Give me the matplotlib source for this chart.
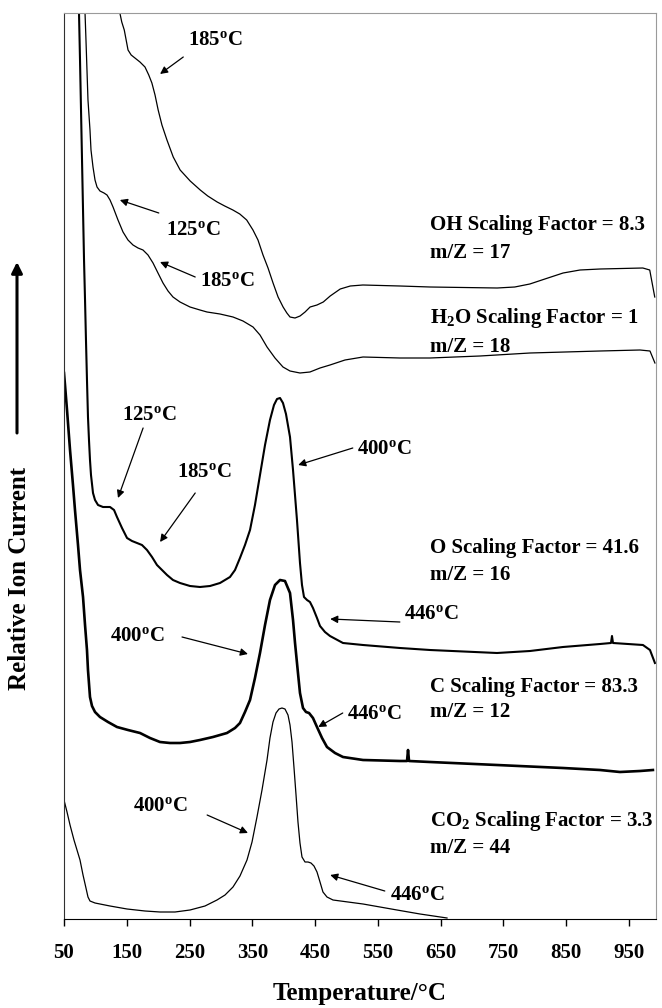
import matplotlib
matplotlib.use("Agg")
import matplotlib.pyplot as plt

# temperature (deg C) and relative ion current (offset, arbitrary units)
oh_temp = [139, 142, 146, 149, 152, 157, 163, 171, 179, 185, 190, 195, 200, 206, 214, 224,
           235, 251, 267, 279, 294, 306, 319, 330, 341, 351, 359, 367, 375, 383, 391, 399,
           405, 410, 418, 426, 434, 442, 453, 463, 474, 490, 506, 526, 585, 633, 740, 768,
           792, 816, 845, 872, 904, 972, 983, 991]
oh_sig = [906, 897, 889, 879, 869, 864, 861, 857, 852, 844, 836, 824, 809, 794, 779, 762,
          749, 738, 729, 723, 717, 713, 709, 705, 699, 689, 679, 664, 651, 636, 622, 612,
          606, 602, 601, 603, 607, 612, 614, 617, 623, 630, 633, 634, 633, 632, 631, 632,
          635, 640, 646, 649, 650, 651, 649, 622]

h2o_temp = [83.5, 85, 86.6, 88.2, 91.4, 93, 96.2, 99.4, 102.6, 107.3, 113.7, 118.5, 123.3,
            128.1, 136, 144, 151.9, 159.9, 167.9, 175.8, 183.8, 191.8, 199.7, 207.7, 215.7,
            223.6, 234.8, 250.7, 266.6, 277.8, 298.5, 319.2, 335.1, 351.1, 362.2, 373.4,
            386.1, 398.8, 410, 425.9, 441.8, 457.8, 473.7, 497.6, 526.3, 585.2, 633, 712.6,
            792.3, 903.8, 967.5, 983.4, 991.3]
h2o_sig = [906, 879, 849, 819, 789, 769, 752, 739, 732, 728, 726, 724, 719,
           712, 699, 687, 679, 674, 671, 669, 664, 656, 646, 636, 628,
           622, 617, 612, 609, 607, 605, 602, 598, 592, 584, 572,
           561, 552, 548, 546, 547, 551, 554, 559, 562, 561, 561, 563,
           566, 568, 569, 568, 556]

o_temp = [73.9, 75.5, 77.1, 78.7, 80.3, 81.9, 83.5, 85, 86.6, 88.2, 89.8, 91.4, 93, 96.2,
          99.4, 104.2, 112.1, 123.3, 129.7, 134.4, 142.4, 150.4, 158.3, 166.3, 174.2, 182.2,
          190.2, 198.1, 206.1, 214.1, 223.6, 234.8, 250.7, 266.6, 282.6, 298.5, 314.4, 322.4,
          330.3, 338.3, 346.3, 354.2, 362.2, 370.2, 378.1, 384.5, 389.3, 394.1, 398.8, 403.6,
          410, 414.8, 421.1, 425.9, 429.1, 432.3, 437.1, 441.8, 446.6, 453, 457.8, 465.7,
          473.7, 494.4, 526.3, 585.2, 633, 739.7, 792.3, 844.8, 903.8, 921.3, 922.9, 924.5,
          972.2, 983.4, 991.3]
o_sig = [906, 859, 809, 759, 709, 659, 619, 579, 539, 502, 479, 459, 444, 426,
         419, 414, 412, 412, 409, 402, 391, 381, 378, 376, 374, 369,
         362, 354, 349, 344, 339, 336, 333, 332, 333, 336, 342, 349,
         361, 374, 389, 414, 444, 474, 499, 514, 520, 521, 516, 505,
         482, 449, 399, 356, 334, 322, 319, 317, 311, 301, 293, 287,
         283, 276, 274, 271, 269, 266, 268, 272, 275, 276, 283, 276,
         274, 269, 256]

c_temp = [50, 51.6, 54.8, 59.6, 64.3, 67.5, 72.3, 75.5, 80.3, 83.5, 86.6, 88.2, 91.4, 94.6,
          99.4, 107.3, 120.1, 134.4, 151.9, 171.1, 187, 202.9, 218.9, 234.8, 250.7, 266.6,
          287.3, 309.6, 322.4, 330.3, 338.3, 346.3, 354.2, 362.2, 370.2, 378.1, 386.1, 394.1,
          402, 410, 414.8, 418, 422.7, 425.9, 430.7, 435.5, 440.3, 446.6, 453, 461, 468.9,
          481.7, 494.4, 526.3, 585.2, 596.4, 598, 599.6, 633, 739.7, 844.8, 903.8, 935.6,
          967.5, 988.1]
c_sig = [546, 534, 509, 469, 434, 409, 374, 349, 322, 294, 269, 249, 222, 213,
         207, 202, 197, 192, 189, 186, 181, 177, 176, 176, 177, 179,
         182, 186, 191, 196, 207, 219, 241, 266, 294, 319, 334, 339,
         338, 326, 299, 276, 246, 226, 211, 207, 206, 201, 192, 181, 172,
         166, 162, 159, 158, 158, 169, 158, 157, 154, 151, 149, 147,
         148, 149]

co2_temp = [50, 54.8, 59.6, 65.9, 70.7, 75.5, 80.3, 85, 88.2, 91.4, 99.4, 107.3, 123.3, 150.4,
            179, 202.9, 226.8, 250.7, 274.6, 293.7, 306.5, 319.2, 330.3, 341.5, 349.5, 357.4,
            365.4, 373.4, 378.1, 382.9, 387.7, 392.5, 397.2, 402, 406.8, 410, 413.2, 416.4,
            419.6, 422.7, 425.9, 429.1, 433.9, 438.7, 443.4, 448.2, 453, 457.8, 462.5, 468.9,
            478.5, 526.3, 580.4, 617.1, 660.1]
co2_sig = [119, 107, 94, 79, 69, 59, 44, 31, 22, 18, 16, 15, 13, 10,
           8, 7, 7, 9, 13, 19, 24, 32, 43, 59, 77, 102,
           129, 159, 181, 197, 206, 210, 211, 210, 204, 194, 177, 151,
           124, 97, 76, 62, 57, 57, 56, 53, 47, 37, 27, 22,
           19, 15, 9, 5, 1]

x_ticks = [50, 150, 250, 350, 450, 550, 650, 750, 850, 950]

# series captions: (text, T, signal)
captions = [
    ("OH Scaling Factor = 8.3", 633, 694), ("m/Z = 17", 633, 666),
    ("H$_2$O Scaling Factor = 1", 633, 601), ("m/Z = 18", 633, 572),
    ("O Scaling Factor = 41.6", 633, 371), ("m/Z = 16", 633, 344),
    ("C Scaling Factor = 83.3", 633, 232), ("m/Z = 12", 633, 207),
    ("CO$_2$ Scaling Factor = 3.3", 633, 98), ("m/Z = 44", 633, 71),
]

# peak labels: text, text pos, arrow tail, arrow head
peak_notes = [
    ("185$^{o}$C", (247, 879), (240, 862), (203, 845)),
    ("125$^{o}$C", (212, 689), (201, 706), (139, 719)),
    ("185$^{o}$C", (267, 638), (259, 642), (203, 657)),
    ("125$^{o}$C", (142, 504), (176, 491), (136, 421)),
    ("185$^{o}$C", (230, 447), (259, 426), (203, 377)),
    ("400$^{o}$C", (517, 470), (510, 471), (423, 454)),
    ("446$^{o}$C", (592, 305), (585, 297), (474, 300)),
    ("400$^{o}$C", (123, 283), (238, 282), (343, 265)),
    ("446$^{o}$C", (501, 205), (494, 206), (455, 192)),
    ("400$^{o}$C", (160, 113), (278, 104), (343, 86)),
    ("446$^{o}$C", (569, 24), (561, 28), (474, 44)),
]

plt.rcParams['font.family'] = ['Liberation Serif', 'DejaVu Serif']
plt.rcParams['font.weight'] = 'bold'
plt.rcParams['mathtext.default'] = 'regular'

fig = plt.figure(figsize=(6.62, 10.08), dpi=100)
ax = fig.add_axes([64 / 662, 89 / 1008, 592 / 662, 906 / 1008])

ax.plot(oh_temp, oh_sig, color='black', lw=0.9)
ax.plot(h2o_temp, h2o_sig, color='black', lw=0.9)
ax.plot(o_temp, o_sig, color='black', lw=1.5)
ax.plot(c_temp, c_sig, color='black', lw=1.9)
ax.plot(co2_temp, co2_sig, color='black', lw=0.9)

ax.set_xlim(50, 993)
ax.set_ylim(0, 906)
ax.set_xticks(x_ticks)
ax.set_yticks([])
ax.tick_params(axis='x', direction='out', length=5, width=1, pad=12, labelsize=15)
for lab in ax.get_xticklabels():
    lab.set_fontweight('bold')

for side in ['top', 'right']:
    ax.spines[side].set_color('#9a9a9a')
ax.spines['left'].set_color('#303030')

ax.set_xlabel('Temperature/°C', fontsize=18, fontweight='bold', labelpad=14)

for txt, tx, ty in captions:
    ax.text(tx, ty, txt, fontsize=15, fontweight='bold', ha='left', va='center')

for txt, pos, tail, head in peak_notes:
    ax.text(pos[0], pos[1], txt, fontsize=15, fontweight='bold', ha='left', va='center')
    ax.annotate('', xy=head, xytext=tail,
                arrowprops=dict(arrowstyle='-|>', color='black', lw=0.9,
                                mutation_scale=11, shrinkA=0, shrinkB=0))

# y label with the upward arrow above it
fig.text(20 / 662, 1 - 578 / 1008, 'Relative Ion Current', rotation=90,
         fontsize=18, fontweight='bold', ha='center', va='center')
ax.annotate('', xy=(17 / 662, 1 - 262 / 1008), xytext=(17 / 662, 1 - 433 / 1008),
            xycoords='figure fraction', textcoords='figure fraction',
            arrowprops=dict(arrowstyle='-|>', color='black', lw=2.2,
                            mutation_scale=16, shrinkA=0, shrinkB=0))

fig.savefig('out.png', dpi=100)
